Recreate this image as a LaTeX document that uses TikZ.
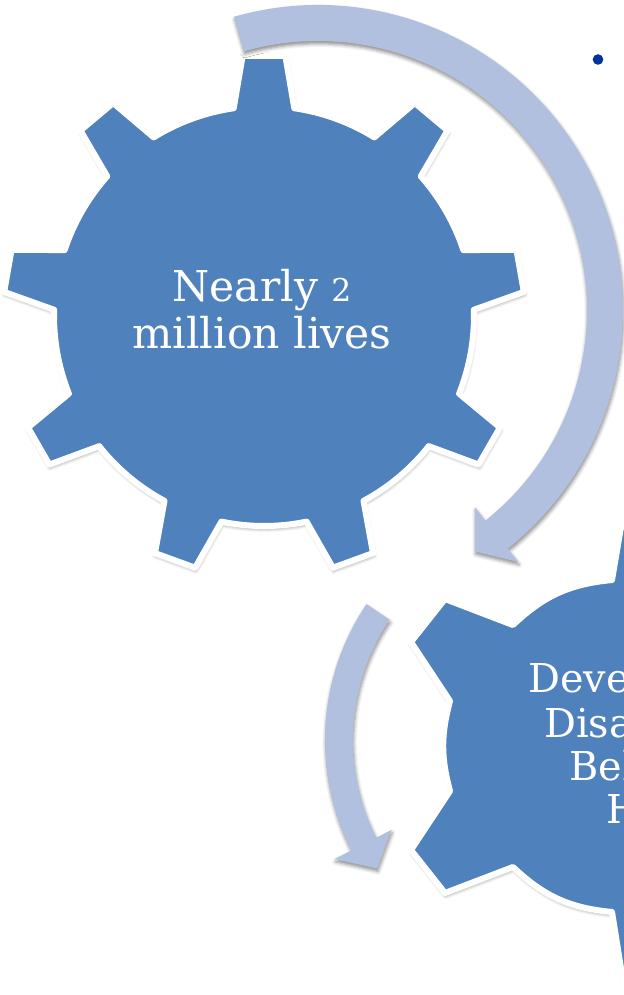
\documentclass[tikz,border=0pt]{standalone}
\usepackage{fontspec}
\setmainfont{DejaVu Serif}
\usetikzlibrary{shadows.blur}
\definecolor{gearblue}{RGB}{79,129,189}
\definecolor{arrowblue}{RGB}{176,192,222}
\definecolor{bulletblue}{RGB}{0,51,153}
\begin{document}
\begin{tikzpicture}[x=0.025cm, y=0.025cm,
    softshadow/.style={blur shadow={shadow xshift=0.5pt, shadow yshift=-2pt,
        shadow blur radius=2.5pt, shadow opacity=45}},
    gear/.style={fill=gearblue, draw=white, line width=4.3pt, line join=round, softshadow},
    turnarrow/.style={fill=arrowblue, softshadow},
    geartext/.style={text=white, align=center, inner sep=0pt,
        font=\fontsize{30.2}{33.4}\selectfont},
    cuttext/.style={text=white, inner sep=0pt, anchor=base west,
        font=\fontsize{28.3}{31.3}\selectfont},
    bulletdot/.style={circle, fill=bulletblue, inner sep=0pt, minimum size=0.265cm}]
    \useasboundingbox (0,0) rectangle (624,-995);
    \clip (0,0) rectangle (624,-995);

    \coordinate (gearA) at (264,-316);
    \coordinate (loopA) at (318,-310);
    \coordinate (loopB) at (568,-740);

    % big gear, nine teeth
    \draw[gear, shift={(gearA)}] (90-8.3:210)
        \foreach \a in {90,130,...,410} {
            -- (\a-4.7:261) -- (\a+4.7:261) -- (\a+8.3:210)
            arc[start angle=\a+8.3, end angle=\a+40-8.3, radius=210]
        } -- cycle;

    % second gear, only its left half is in view
    \draw[gear] (660,-520) -- (621,-527) -- (612,-580) to[bend right=19] (513,-625)
        -- (445,-599) -- (411,-642) -- (450,-701) to[bend right=15] (450,-791)
        -- (411,-850) -- (445,-893) -- (513,-867) to[bend right=19] (612,-912)
        -- (628,-1012) -- (760,-1012) -- (760,-520) -- cycle;

    % turning arrows
    \fill[turnarrow, shift={(loopA)}] (106:305)
        arc[start angle=106, end angle=-51.5, radius=305]
        -- (-51.5:322) -- (-57:288) -- (-51.5:252) -- (-51.5:269)
        arc[start angle=-51.5, end angle=106, radius=269] -- cycle;
    \fill[turnarrow, shift={(loopB)}] (146:243)
        arc[start angle=146, end angle=207, radius=243]
        -- (207:262) -- (214:230) -- (207:198) -- (207:215)
        arc[start angle=207, end angle=146, radius=215] -- cycle;

    \node[geartext] (lives) at (262,-309.4) {Nearly \scalebox{0.74}{2}\\million lives};

    \node[cuttext] (lineA) at (528,-692) {Devel};
    \node[cuttext] (lineB) at (544,-737) {Disa};
    \node[cuttext] (lineC) at (569,-780) {Beh};
    \node[cuttext] (lineD) at (606,-823) {H};

    \node[bulletdot] (bullet) at (598,-59.5) {};
\end{tikzpicture}
\end{document}
